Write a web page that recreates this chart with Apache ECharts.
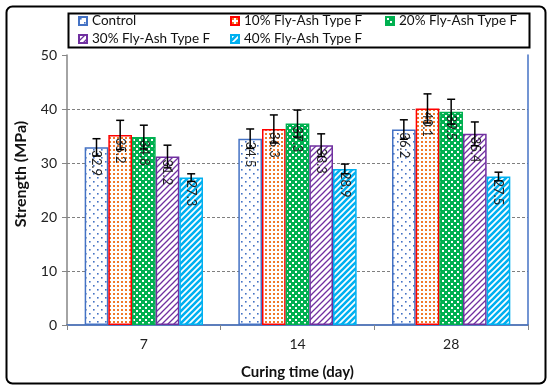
<!DOCTYPE html>
<html><head><meta charset="utf-8">
<script src="https://cdn.jsdelivr.net/npm/echarts@6/dist/echarts.min.js"></script>
<style>html,body{margin:0;padding:0;background:#fff}#c{width:550px;height:390px}</style>
</head><body><div id="c"></div>
<script>
const categories = ['7', '14', '28'];
const seriesNames = ['Control', '10% Fly-Ash Type F', '20% Fly-Ash Type F', '30% Fly-Ash Type F', '40% Fly-Ash Type F'];
const control = [32.9, 34.5, 36.2];
const flyAsh10 = [35.2, 36.3, 40.1];
const flyAsh20 = [34.8, 37.3, 39.5];
const flyAsh30 = [31.2, 33.3, 35.4];
const flyAsh40 = [27.3, 28.9, 27.5];
const errControl = [1.6, 1.8, 1.8];
const err10 = [2.7, 2.6, 2.7];
const err20 = [2.2, 2.5, 2.3];
const err30 = [2.1, 2.1, 2.2];
const err40 = [0.7, 0.9, 0.8];
const yTicks = [0, 10, 20, 30, 40, 50];
const yTitle = 'Strength (MPa)';
const xTitle = 'Curing time (day)';

const values = [control, flyAsh10, flyAsh20, flyAsh30, flyAsh40];
const errors = [errControl, err10, err20, err30, err40];
const borderColors = ['#4472C4', '#FF0000', '#00B050', '#7030A0', '#00B0F0'];

function pattern(kind) {
  const c = document.createElement('canvas');
  const ctx = c.getContext('2d');
  if (kind === 0) {
    c.width = 8; c.height = 8;
    ctx.fillStyle = '#fff'; ctx.fillRect(0, 0, 8, 8);
    ctx.fillStyle = '#4472C4';
    ctx.fillRect(1, 1, 1.6, 1.6); ctx.fillRect(5, 5, 1.6, 1.6);
  } else if (kind === 1) {
    c.width = 4; c.height = 4;
    ctx.fillStyle = '#fff'; ctx.fillRect(0, 0, 4, 4);
    ctx.fillStyle = '#F07A2A';
    ctx.fillRect(1, 1, 2, 2);
  } else if (kind === 2) {
    c.width = 6; c.height = 6;
    ctx.fillStyle = '#00B050'; ctx.fillRect(0, 0, 6, 6);
    ctx.fillStyle = '#fff';
    ctx.fillRect(1, 1, 2, 2); ctx.fillRect(4, 4, 2, 2);
  } else {
    const col = kind === 3 ? '#7030A0' : '#00B0F0';
    const lw = kind === 3 ? 1.3 : 2.6;
    c.width = 6; c.height = 6;
    ctx.fillStyle = '#fff'; ctx.fillRect(0, 0, 6, 6);
    ctx.strokeStyle = col; ctx.lineWidth = lw;
    ctx.beginPath();
    ctx.moveTo(-1, 7); ctx.lineTo(7, -1);
    ctx.moveTo(-1, 1); ctx.lineTo(1, -1);
    ctx.moveTo(5, 7); ctx.lineTo(7, 5);
    ctx.stroke();
  }
  return { image: c, repeat: 'repeat' };
}

const CAT_GAP = 0.23;
const font = 'Lato, "Open Sans", sans-serif';

const barSeries = seriesNames.map((name, i) => ({
  name: name,
  type: 'bar',
  data: values[i],
  barGap: '0%',
  barCategoryGap: (CAT_GAP * 100) + '%',
  itemStyle: { color: pattern(i), borderColor: borderColors[i], borderWidth: 1.5 },
  label: {
    show: true, position: 'insideTop', rotate: -90, align: 'left', verticalAlign: 'middle',
    distance: 3, fontSize: 13, color: '#222', fontFamily: font
  },
  emphasis: { disabled: true },
  z: 2
}));

const errSeries = seriesNames.map((name, i) => ({
  name: name + ' err',
  type: 'custom',
  data: values[i].map((v, k) => [k, v, errors[i][k]]),
  encode: { x: 0, y: 1 },
  z: 5,
  renderItem: function (params, api) {
    const k = api.value(0), v = api.value(1), e = api.value(2);
    const band = api.size([1, 0])[0];
    const groupW = band * (1 - CAT_GAP);
    const bw = groupW / 5;
    const center = api.coord([k, v]);
    const x = center[0] - groupW / 2 + bw * (i + 0.5);
    const top = api.coord([k, v + e])[1];
    const bot = api.coord([k, v - e])[1];
    const hw = 4;
    const st = { stroke: '#000', lineWidth: 1.5 };
    return { type: 'group', children: [
      { type: 'line', shape: { x1: x, y1: top, x2: x, y2: bot }, style: st },
      { type: 'line', shape: { x1: x - hw, y1: top, x2: x + hw, y2: top }, style: st },
      { type: 'line', shape: { x1: x - hw, y1: bot, x2: x + hw, y2: bot }, style: st }
    ]};
  }
}));

function legendCol(left, names) {
  return {
    orient: 'vertical', left: left, top: 13, data: names,
    itemWidth: 8, itemHeight: 8, itemGap: 2, padding: [0, 0, 0, 0],
    icon: 'rect', selectedMode: false,
    textStyle: { fontSize: 13.5, color: '#111', fontFamily: font, lineHeight: 16, padding: [0, 0, 0, 0] }
  };
}

const chart = echarts.init(document.getElementById('c'), null, { renderer: 'canvas' });
chart.setOption({
  animation: false,
  backgroundColor: '#fff',
  grid: { left: 67, right: 22, top: 55, bottom: 65 },
  legend: [
    legendCol(78, [seriesNames[0], seriesNames[3]]),
    legendCol(230, [seriesNames[1], seriesNames[4]]),
    legendCol(385, [seriesNames[2]])
  ],
  xAxis: [{
    type: 'category', data: categories,
    axisLine: { lineStyle: { color: '#868686', width: 1.5 } },
    axisTick: { show: true, length: 5, lineStyle: { color: '#868686' } },
    axisLabel: { fontSize: 14, color: '#222', margin: 12, fontFamily: font },
    name: xTitle, nameLocation: 'middle', nameGap: 40,
    nameTextStyle: { fontSize: 15, fontWeight: 'bold', color: '#111', fontFamily: font }
  }, {
    type: 'category', data: categories, position: 'top',
    axisLine: { show: true, lineStyle: { color: '#4472C4', width: 1.5 } },
    axisTick: { show: false }, axisLabel: { show: false }
  }],
  yAxis: [{
    type: 'value', min: 0, max: 50, interval: 10,
    axisLine: { show: true, lineStyle: { color: '#868686', width: 1.5 } },
    axisTick: { show: true, length: 5, lineStyle: { color: '#868686' } },
    axisLabel: { fontSize: 14, color: '#222', margin: 10, fontFamily: font,
      formatter: v => yTicks.includes(v) ? String(v) : '' },
    splitLine: { show: true, showMinLine: false, showMaxLine: false,
      lineStyle: { color: '#7f7f7f', type: [3, 2], width: 1 } }
  }, {
    type: 'value', min: 0, max: 50, interval: 10, position: 'right',
    axisLine: { show: true, lineStyle: { color: '#4472C4', width: 1.5 } },
    axisTick: { show: false }, axisLabel: { show: false }, splitLine: { show: false }
  }],
  graphic: [
    { type: 'rect', left: 4, top: 4, shape: { width: 539, height: 377, r: 6 },
      style: { fill: 'none', stroke: '#000', lineWidth: 2 }, z: 100 },
    { type: 'rect', left: 66, top: 11, shape: { width: 461, height: 34 },
      style: { fill: 'none', stroke: '#000', lineWidth: 2 }, z: 100 },
    { type: 'text', x: 21, y: 174, rotation: Math.PI / 2,
      style: { text: yTitle, font: 'bold 16px ' + font, fill: '#111', align: 'center', verticalAlign: 'middle' } }
  ],
  series: barSeries.concat(errSeries)
});
</script></body></html>
